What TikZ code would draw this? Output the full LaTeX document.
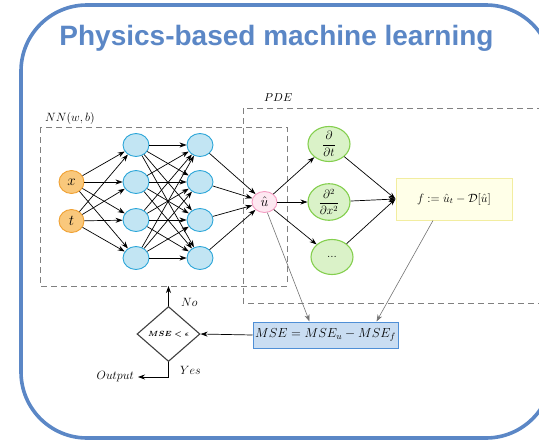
\RequirePackage{fix-cm}
\documentclass[tikz,border=0pt]{standalone}
\usepackage{amsmath}
\usepackage{fontspec}
\newfontfamily\titlefont{Liberation Sans}
\usetikzlibrary{arrows.meta,shapes.geometric,calc}

\definecolor{frameblue}{HTML}{5B87C6}
\definecolor{inpfill}{HTML}{F9C87C}
\definecolor{inpdraw}{HTML}{F0A030}
\definecolor{hidfill}{HTML}{C2E5F3}
\definecolor{hiddraw}{HTML}{2AA5D8}
\definecolor{outfill}{HTML}{FDE8F1}
\definecolor{outdraw}{HTML}{F49AC1}
\definecolor{derfill}{HTML}{DAF2C8}
\definecolor{derdraw}{HTML}{84CF4E}
\definecolor{resfill}{HTML}{FFFFE8}
\definecolor{resdraw}{HTML}{F2EDA0}
\definecolor{msefill}{HTML}{C9DDF2}
\definecolor{msedraw}{HTML}{4F8FD6}
\definecolor{dashgray}{HTML}{808080}

\tikzset{
  neuron/.style={ellipse, line width=0.9pt, inner sep=0pt},
  inpnode/.style={neuron, fill=inpfill, draw=inpdraw, minimum width=25pt, minimum height=23pt, font=\fontsize{15}{17}\selectfont},
  hidnode/.style={neuron, fill=hidfill, draw=hiddraw, minimum width=26pt, minimum height=23pt},
  outnode/.style={neuron, fill=outfill, draw=outdraw, minimum width=25pt, minimum height=21pt, font=\fontsize{14}{16}\selectfont},
  dernode/.style={neuron, fill=derfill, draw=derdraw, line width=1.1pt, minimum width=42pt, minimum height=35pt, font=\fontsize{12}{14}\selectfont},
  resbox/.style={rectangle, fill=resfill, draw=resdraw, line width=1pt, minimum width=116pt, minimum height=42pt, font=\fontsize{12}{14}\selectfont},
  msebox/.style={rectangle, fill=msefill, draw=msedraw, line width=1pt, minimum width=145pt, minimum height=26pt, inner sep=0pt, font=\fontsize{13}{15}\selectfont},
  decision/.style={diamond, draw=black!75, line width=1.1pt, minimum width=63pt, minimum height=55pt, inner sep=0pt, font=\fontsize{7.5}{9}\selectfont},
  region/.style={draw=dashgray, dash pattern=on 6pt off 4pt, line width=0.8pt},
  netarrow/.style={-{Stealth[length=7pt,width=5pt]}, line width=0.7pt, black},
  feedarrow/.style={-{Stealth[length=7pt,width=5pt]}, line width=0.6pt, black!55},
  lbl/.style={font=\fontsize{12}{14}\selectfont, inner sep=0pt}
}

\begin{document}
\begin{tikzpicture}[x=1pt, y=-1pt]
\useasboundingbox (0,0) rectangle (539,442);

% frame and heading
\draw[frameblue, line width=3.6pt, rounded corners=66pt] (21,5) rectangle (552,438);
\node[text=frameblue, font=\titlefont\bfseries\fontsize{28}{32}\selectfont, anchor=base] (title) at (276.5,45) {Physics-based machine learning};

% dashed regions
\draw[region] (243,108) rectangle (548,303);
\draw[region] (40,127) rectangle (287,286);
\node[lbl, anchor=base west] (nnlabel) at (45,121) {$NN(w,b)$};
\node[lbl, anchor=base west, font=\fontsize{11.5}{13}\selectfont] (pdelabel) at (264,101) {$PDE$};

% network
\node[inpnode] (x) at (71.5,182) {$x$};
\node[inpnode] (t) at (71.5,221) {$t$};
\foreach \i/\y in {1/145,2/182,3/220,4/258} {
  \node[hidnode] (a\i) at (136,\y) {};
  \node[hidnode] (b\i) at (200,\y) {};
}
\node[outnode] (u) at (264.5,202) {$\hat{u}$};

\foreach \s in {x,t}
  \foreach \i in {1,...,4}
    \draw[netarrow] (\s) -- (a\i);
\foreach \i in {1,...,4}
  \foreach \j in {1,...,4}
    \draw[netarrow] (a\i) -- (b\j);
\foreach \i in {1,...,4}
  \draw[netarrow] (b\i) -- (u);

% differential operators
\node[dernode] (d1) at (329,144) {$\dfrac{\partial}{\partial t}$};
\node[dernode] (d2) at (329,202) {$\dfrac{\partial^2}{\partial x^2}$};
\node[dernode] (d3) at (332,257) {$...$};
\node[resbox] (res) at (454,199) {$f:=\hat{u}_t-\mathcal{D}[\hat{u}]$};

\foreach \d in {d1,d2,d3} {
  \draw[netarrow] (u) -- (\d);
  \draw[netarrow] (\d) -- (res.west);
}

% loss and stopping test
\node[msebox] (mse) at (325.5,335) {$MSE=MSE_u-MSE_f$};
\node[decision] (test) at (168.5,334) {$\boldsymbol{MSE<\epsilon}$};
\coordinate (outpt) at (138,377);

\draw[feedarrow] (u.-75) -- ([xshift=57pt]mse.north west);
\draw[feedarrow] ([xshift=-21pt]res.south) -- ([xshift=124pt]mse.north west);
\draw[netarrow] (mse.west) -- (test.east);
\draw[netarrow] (test.north) -- (test.north |- 0,286);
\draw[netarrow] (test.south) |- (outpt);

\node[lbl, anchor=west] (no) at (181,302) {$No$};
\node[lbl, anchor=west] (yes) at (180,370) {$Yes$};
\node[lbl, anchor=east, inner xsep=4pt] (out) at (outpt) {$Output$};
\end{tikzpicture}
\end{document}
